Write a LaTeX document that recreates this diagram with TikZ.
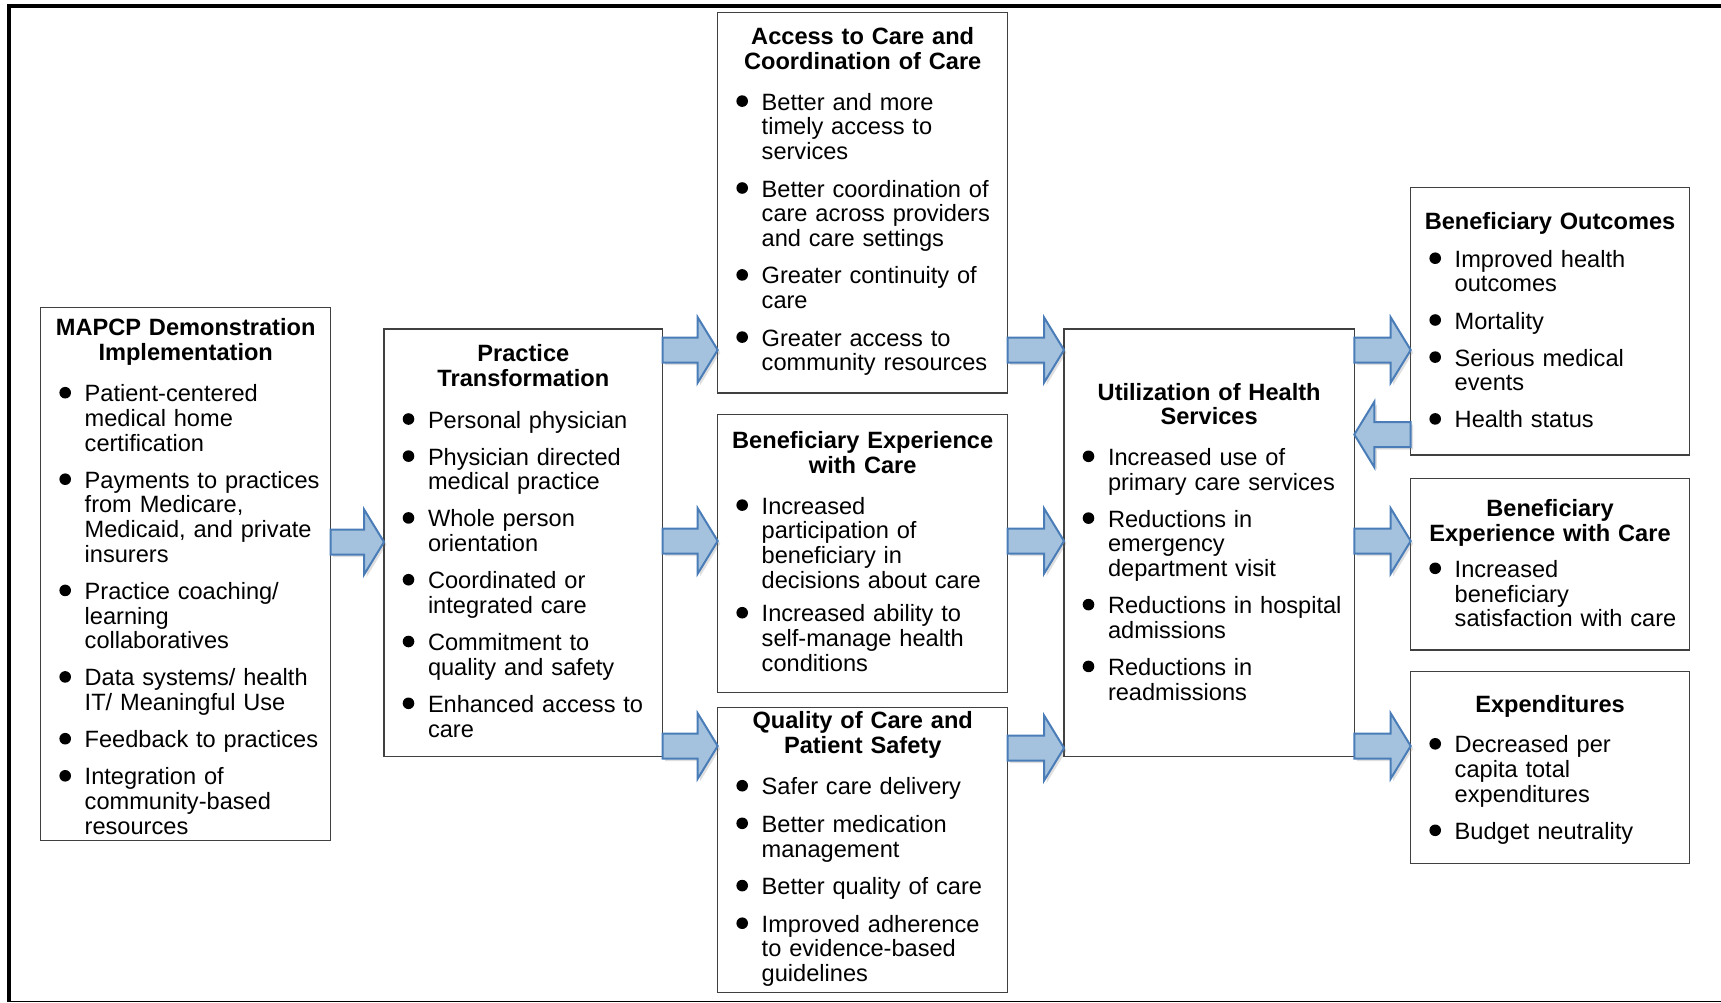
\documentclass[tikz,border=0pt]{standalone}
\usepackage{fontspec}
\setmainfont{Liberation Sans}
\usetikzlibrary{calc,shadows}
\definecolor{arrfill}{HTML}{A4C2DE}
\definecolor{arrdraw}{HTML}{4A7DB8}
\definecolor{boxline}{HTML}{404040}
\setlength\parindent{0pt}
\setlength\parskip{0pt}
\newcommand\igap{12.4}
\newcommand\bul{\tikz[baseline=-9pt]\fill (0,0) circle (5.8pt);}
\newcommand\ttl[2]{{\centering\bfseries\rule{0pt}{18pt}#1\par}\vspace{#2pt}}
\newcommand\itm[1]{{\raggedright\leftskip=44pt\rightskip=-40pt plus 1fil\noindent\llap{\makebox[25.3pt][l]{\bul}}#1\par}\vspace{\igap pt}}
\newcommand\barrow[2]{\draw[barrowstyle] let \p1=(#1), \p2=(#2), \n1={sign(\x2-\x1)} in
  (\x1,{\y1+12.5pt}) -- ({\x2-(\n1)*20pt},{\y1+12.5pt}) -- ({\x2-(\n1)*20pt},{\y1+32.7pt}) -- (\x2,\y1)
  -- ({\x2-(\n1)*20pt},{\y1-32.7pt}) -- ({\x2-(\n1)*20pt},{\y1-12.5pt}) -- (\x1,{\y1-12.5pt}) -- cycle;}
\tikzset{
  box/.style={draw=boxline, line width=1.3pt, inner sep=0pt, outer sep=0pt, anchor=north west, fill=white},
  txt/.style={inner sep=0pt, outer sep=0pt, anchor=north west, font=\fontsize{23.6}{24.7}\selectfont},
  barrowstyle/.style={fill=arrfill, draw=arrdraw, line width=2pt, line join=miter,
    drop shadow={shadow xshift=2.5pt, shadow yshift=-2.5pt, opacity=0.25, fill=black!50}}
}
\begin{document}
\begin{tikzpicture}[x=1pt,y=1pt]
\useasboundingbox (0,0) rectangle (1721,-1002);
% outer frame
\draw[line width=3.6pt] (9.2,-1002) -- (9.2,-5.7) -- (1721,-5.7);
\draw[line width=1.2pt] (7.5,-1001.2) -- (1721,-1001.2);

% boxes
\node[box, minimum width=290pt, minimum height=533.5pt] (mapcp) at (40.7,-307.3) {};
\node[box, minimum width=278.7pt, minimum height=427.7pt] (prac) at (384,-329) {};
\node[box, minimum width=290pt, minimum height=380.3pt] (acc) at (717.7,-12.7) {};
\node[box, minimum width=290pt, minimum height=278pt] (bexp) at (717.7,-414.3) {};
\node[box, minimum width=290pt, minimum height=284.5pt] (qual) at (717.7,-707.7) {};
\node[box, minimum width=290.3pt, minimum height=427.7pt] (util) at (1064,-329) {};
\node[box, minimum width=278.6pt, minimum height=267.3pt] (bo) at (1410.7,-187.7) {};
\node[box, minimum width=278.6pt, minimum height=171.5pt] (bewc) at (1410.7,-478.5) {};
\node[box, minimum width=278.6pt, minimum height=191.6pt] (expd) at (1410.7,-671.7) {};

% texts
\node[txt, text width=290pt] (mapcpT) at (40.7,-317.3) {%
\ttl{MAPCP Demonstration\\Implementation}{17}%
\itm{Patient-centered\\medical home\\certification}%
\itm{Payments to practices\\from Medicare,\\Medicaid, and private\\insurers}%
\itm{Practice coaching/\\learning\\collaboratives}%
\itm{Data systems/ health\\IT/ Meaningful Use}%
\itm{Feedback to practices}%
\itm{Integration of\\community-based\\resources}};

\node[txt, text width=278.7pt] (pracT) at (384,-343.6) {%
\ttl{Practice\\Transformation}{17}%
\itm{Personal physician}%
\itm{Physician directed\\medical practice}%
\itm{Whole person\\orientation}%
\itm{Coordinated or\\integrated care}%
\itm{Commitment to\\quality and safety}%
\itm{Enhanced access to\\care}};

\node[txt, text width=290pt] (accT) at (717.7,-26.8) {%
\def\igap{12.8}%
\ttl{Access to Care and\\Coordination of Care}{15.9}%
\itm{Better and more\\timely access to\\services}%
\itm{Better coordination of\\care across providers\\and care settings}%
\itm{Greater continuity of\\care}%
\itm{Greater access to\\community resources}};

\node[txt, text width=290pt] (bexpT) at (717.7,-430.5) {%
\def\igap{8.8}%
\ttl{Beneficiary Experience\\with Care}{16.2}%
\itm{Increased\\participation of\\beneficiary in\\decisions about care}%
\itm{Increased ability to\\self-manage health\\conditions}};

\node[txt, text width=290pt] (qualT) at (717.7,-710.8) {%
\def\igap{12.9}%
\ttl{Quality of Care and\\Patient Safety}{16.5}%
\itm{Safer care delivery}%
\itm{Better medication\\management}%
\itm{Better quality of care}%
\itm{Improved adherence\\to evidence-based\\guidelines}};

\node[txt, text width=290.3pt] (utilT) at (1064,-382) {%
\ttl{Utilization of Health\\Services}{15.9}%
\itm{Increased use of\\primary care services}%
\itm{Reductions in\\emergency\\department visit}%
\itm{Reductions in hospital\\admissions}%
\itm{Reductions in\\readmissions}};

\node[txt, text width=278.6pt] (boT) at (1410.7,-211.9) {%
\ttl{Beneficiary Outcomes}{12.6}%
\itm{Improved health\\outcomes}%
\itm{Mortality}%
\itm{Serious medical\\events}%
\itm{Health status}};

\node[txt, text width=278.6pt] (bewcT) at (1410.7,-498.4) {%
\ttl{Beneficiary\\Experience with Care}{11.5}%
\itm{Increased\\beneficiary\\satisfaction with care}};

\node[txt, text width=278.6pt] (expdT) at (1410.7,-694.2) {%
\ttl{Expenditures}{15.9}%
\itm{Decreased per\\capita total\\expenditures}%
\itm{Budget neutrality}};

% arrows
\barrow{mapcp.east |- 0,-542}{prac.west |- 0,-542}
\barrow{prac.east |- 0,-350}{acc.west |- 0,-350}
\barrow{prac.east |- 0,-541}{bexp.west |- 0,-541}
\barrow{prac.east |- 0,-746}{qual.west |- 0,-746}
\barrow{acc.east |- 0,-350}{util.west |- 0,-350}
\barrow{bexp.east |- 0,-541}{util.west |- 0,-541}
\barrow{qual.east |- 0,-748}{util.west |- 0,-748}
\barrow{util.east |- 0,-350}{bo.west |- 0,-350}
\barrow{bo.west |- 0,-434.5}{util.east |- 0,-434.5}
\barrow{util.east |- 0,-541}{bewc.west |- 0,-541}
\barrow{util.east |- 0,-746}{expd.west |- 0,-746}
\end{tikzpicture}
\end{document}
